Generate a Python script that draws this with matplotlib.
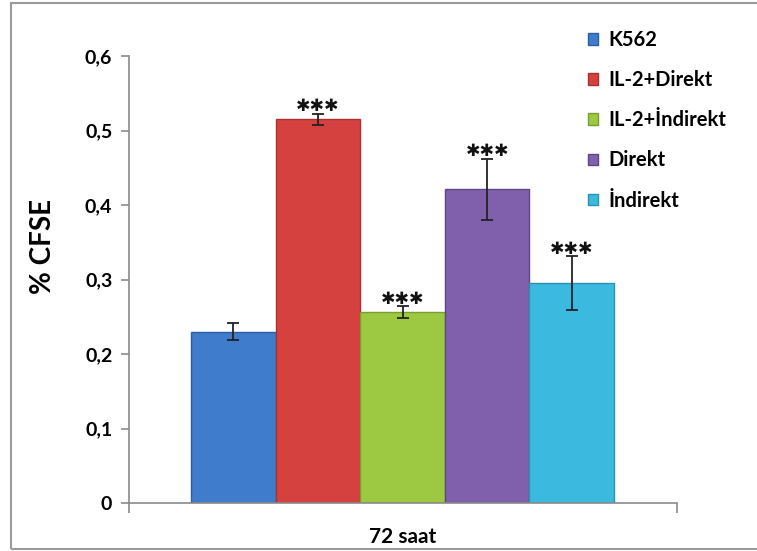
import matplotlib
matplotlib.use("Agg")
import matplotlib.pyplot as plt
from matplotlib.patches import Rectangle
from matplotlib.transforms import offset_copy

categories = ["K562", "IL-2+Direkt", "IL-2+İndirekt", "Direkt", "İndirekt"]
values = [0.230, 0.515, 0.256, 0.421, 0.295]
errors = [0.011, 0.007, 0.008, 0.041, 0.036]
stars = ["", "✱✱✱", "✱✱✱", "✱✱✱", "✱✱✱"]
yticks = [0, 0.1, 0.2, 0.3, 0.4, 0.5, 0.6]
ytick_labels = ["0", "0,1", "0,2", "0,3", "0,4", "0,5", "0,6"]
group_label = "72 saat"
ylabel = "% CFSE"

colors = ["#3f7ccb", "#d4413f", "#9cc842", "#8060ad", "#3cb9de"]
edges = ["#2d5f9e", "#a83230", "#7a9e2f", "#5f4585", "#2b92b0"]

plt.rcParams['font.family'] = ['Lato', 'DejaVu Sans']

fig = plt.figure(figsize=(7.57, 5.51), dpi=100)
W, H = 757, 551
ax = fig.add_axes([129 / W, 1 - 503 / H, (677 - 129) / W, (503 - 56) / H])

# outer frame
fig.patches.append(Rectangle((11 / W, 1 - 549 / H), 1.2, (549 - 3) / H,
                             transform=fig.transFigure, fill=False,
                             edgecolor="#9a9a9a", linewidth=1.5, zorder=0))

x = list(range(len(categories)))
bars = ax.bar(x, values, width=1.0, color=colors, edgecolor=edges, linewidth=1.0,
              label=None, zorder=2)
ax.errorbar(x, values, yerr=errors, fmt="none", ecolor="#222222", elinewidth=1.3,
            capsize=4, capthick=1.3, zorder=3)

for xi, v, e, s in zip(x, values, errors, stars):
    if s:
        tr = offset_copy(ax.transData, fig=fig, x=0, y=-1, units='points')
        ax.text(xi, v + e, s, ha="center", va="bottom", fontsize=12.5, fontweight="bold",
                family="DejaVu Sans", color="#111111", transform=tr)

ax.set_ylim(0, 0.6)
ax.set_xlim(-1.235, 5.245)
ax.set_yticks(yticks)
ax.set_yticklabels(ytick_labels, fontsize=14, fontweight="bold")
ax.set_xticks([-1.235, 5.245])
ax.set_xticklabels([])
ax.tick_params(axis="x", length=7, direction="out", color="#8a8a8a", width=1.2)
ax.tick_params(axis="y", length=6, direction="out", color="#8a8a8a", width=1.2, pad=6)
ax.text(2, -0.045, group_label, ha="center", va="center", fontsize=15, fontweight="bold")

for side in ["top", "right"]:
    ax.spines[side].set_visible(False)
for side in ["left", "bottom"]:
    ax.spines[side].set_color("#8a8a8a")
    ax.spines[side].set_linewidth(1.2)

fig.text(43 / W, 1 - 246 / H, ylabel, rotation=90, ha="center", va="center",
         fontsize=20, fontweight="bold")

handles = [Rectangle((0, 0), 1, 1, facecolor=c, edgecolor=e) for c, e in zip(colors, edges)]
leg = fig.legend(handles, categories, loc="upper left",
                 bbox_to_anchor=(588 / W, 1 - 30 / H), frameon=False,
                 prop={"weight": "bold", "size": 14.5}, handlelength=0.5,
                 handleheight=0.5, handletextpad=0.5, labelspacing=1.0,
                 borderpad=0, borderaxespad=0)

fig.savefig("out.png", dpi=100, facecolor="white")
